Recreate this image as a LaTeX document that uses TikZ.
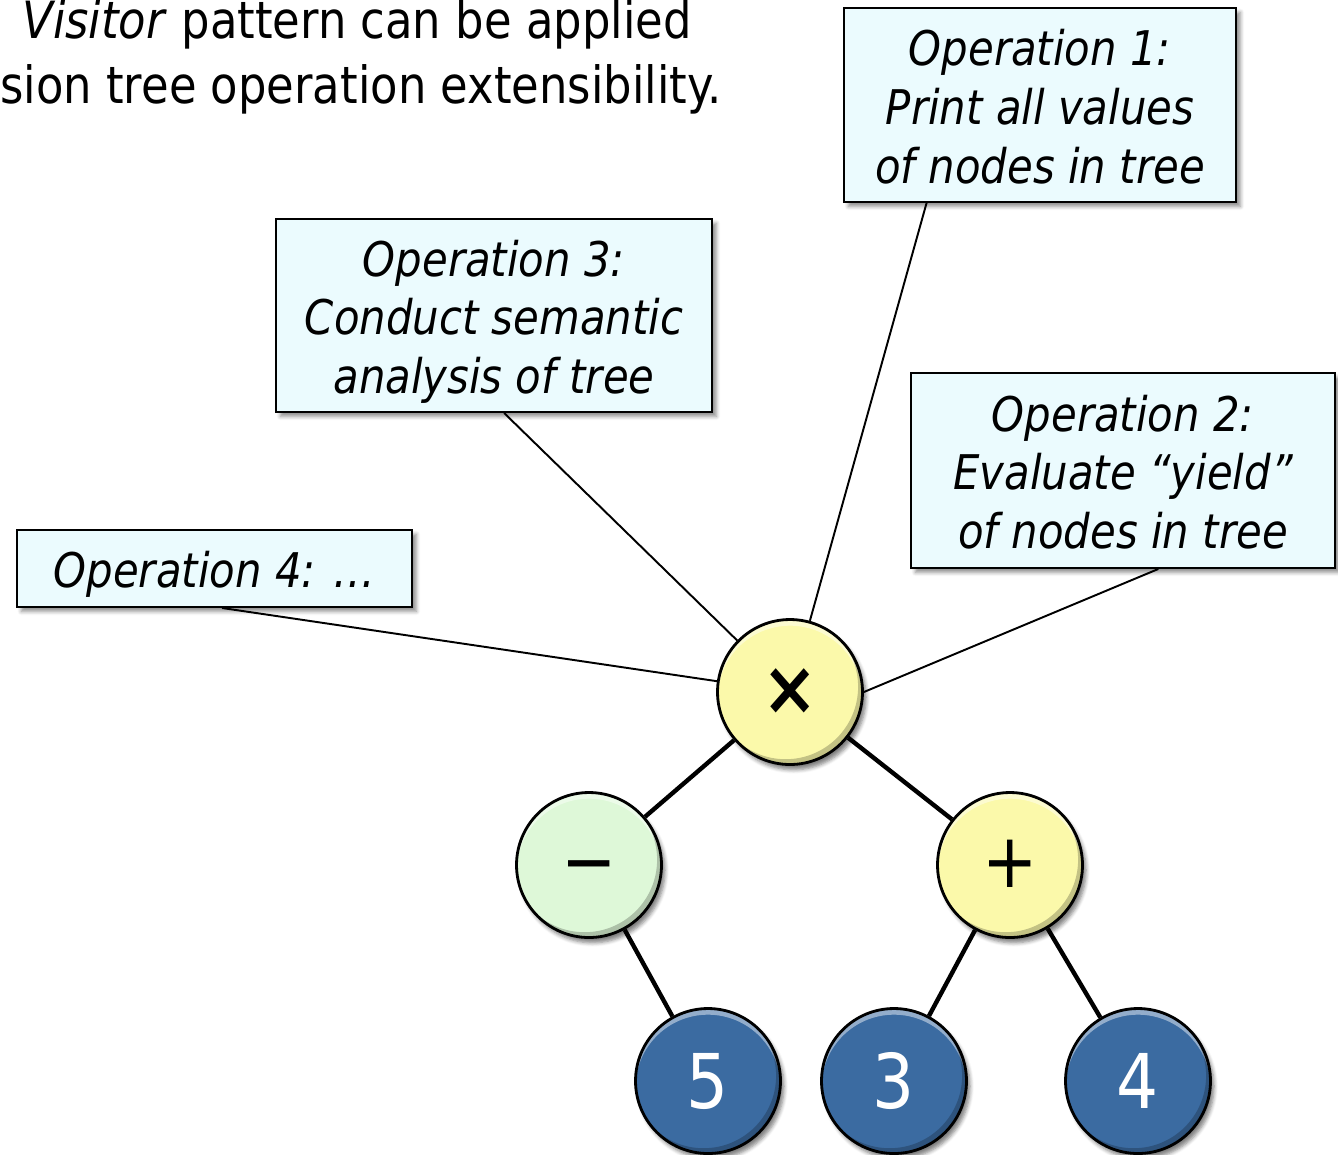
\documentclass[tikz,border=0pt]{standalone}
\usepackage{fontspec}
\setmainfont{DejaVu Sans}[FakeStretch=0.875]
\usetikzlibrary{calc,shadows.blur}

\definecolor{boxfill}{HTML}{EBFBFE}
\definecolor{ylwfill}{HTML}{FBF9AA}
\definecolor{grnfill}{HTML}{DEF8D8}
\definecolor{blufill}{HTML}{3B6BA1}

% one line box of the callout text: 49px above, 10px below the baseline
\newcommand\opstrut{\rule[-5.67pt]{0pt}{33.45pt}}

\begin{document}
\begin{tikzpicture}[x=0.02cm,y=-0.02cm,
  titletext/.style={inner sep=0pt, font=\fontsize{29.2pt}{35pt}\selectfont},
  opbox/.style={draw=black, line width=1.1pt, fill=boxfill, inner sep=0pt, align=center,
    font=\fontsize{27.2pt}{33.45pt}\selectfont\itshape,
    blur shadow={shadow xshift=2.5pt, shadow yshift=-2.5pt, shadow blur steps=5, shadow opacity=45}},
  % button-like disc: flat fill, light rim on top, dark rim at lower right
  treenode/.style={circle, draw=black, line width=1.6pt, minimum size=2.9cm, inner sep=0pt,
    blur shadow={shadow xshift=2pt, shadow yshift=-3pt, shadow blur steps=5, shadow opacity=50},
    path picture={
      \fill[white, opacity=0.45, even odd rule]
        (path picture bounding box.center) circle[radius=1.45cm]
        ([yshift=-3.5pt]path picture bounding box.center) circle[radius=1.45cm];
      \fill[black, opacity=0.22, even odd rule]
        (path picture bounding box.center) circle[radius=1.45cm]
        ([xshift=-2.5pt,yshift=3pt]path picture bounding box.center) circle[radius=1.45cm];
    }},
  opnode/.style={treenode, fill=ylwfill,
    font=\fontsize{43pt}{50pt}\selectfont, text height=26pt, text depth=0pt},
  subnode/.style={opnode, fill=grnfill},
  numnode/.style={treenode, fill=blufill, text=white,
    font=\fontsize{43pt}{50pt}\selectfont},
  treeedge/.style={draw=black, line width=2.5pt},
  calloutline/.style={draw=black, line width=1.1pt}
]
\useasboundingbox (0,0) rectangle (1338,1154);

% heading
\node[titletext, anchor=base west] (title1) at (22,38) {\textit{Visitor} pattern can be applied};
\node[titletext, anchor=base west] (title2) at (0,103) {sion tree operation extensibility.};

% operation callouts
\node[opbox, minimum width=7.84cm, minimum height=3.88cm] (op1) at (1040,105)
  {\opstrut Operation 1:\\\opstrut Print all values\\\opstrut of nodes in tree};
\node[opbox, minimum width=8.48cm, minimum height=3.9cm] (op2) at (1123,470.5)
  {\opstrut Operation 2:\\\opstrut Evaluate “yield”\\\opstrut of nodes in tree};
\node[opbox, minimum width=8.72cm, minimum height=3.86cm] (op3) at (494,315.5)
  {\opstrut Operation 3:\\\opstrut Conduct semantic\\\opstrut analysis of tree};
\node[opbox, minimum width=7.9cm, minimum height=1.54cm] (op4) at (214.5,568.5)
  {\opstrut Operation 4: …};

% expression tree
\node[opnode] (mul) at (790,692) {\textbf{×}};
\node[subnode] (sub) at (589,865) {−};
\node[opnode] (add) at (1010,865) {+};
\node[numnode] (n5) at (708,1081) {5};
\node[numnode] (n3) at (894,1081) {3};
\node[numnode] (n4) at (1138,1081) {4};

\draw[treeedge] (mul) -- (sub);
\draw[treeedge] (mul) -- (add);
\draw[treeedge] (sub) -- (n5);
\draw[treeedge] (add) -- (n3);
\draw[treeedge] (add) -- (n4);

% callout leaders
\draw[calloutline] ($(op1.south west)!0.212!(op1.south east)$) -- (mul);
\draw[calloutline] ($(op3.south west)!0.523!(op3.south east)$) -- (mul);
\draw[calloutline] ($(op4.south west)!0.519!(op4.south east)$) -- (mul);
\draw[calloutline] ($(op2.south west)!0.583!(op2.south east)$) -- (mul.east);
\end{tikzpicture}
\end{document}
